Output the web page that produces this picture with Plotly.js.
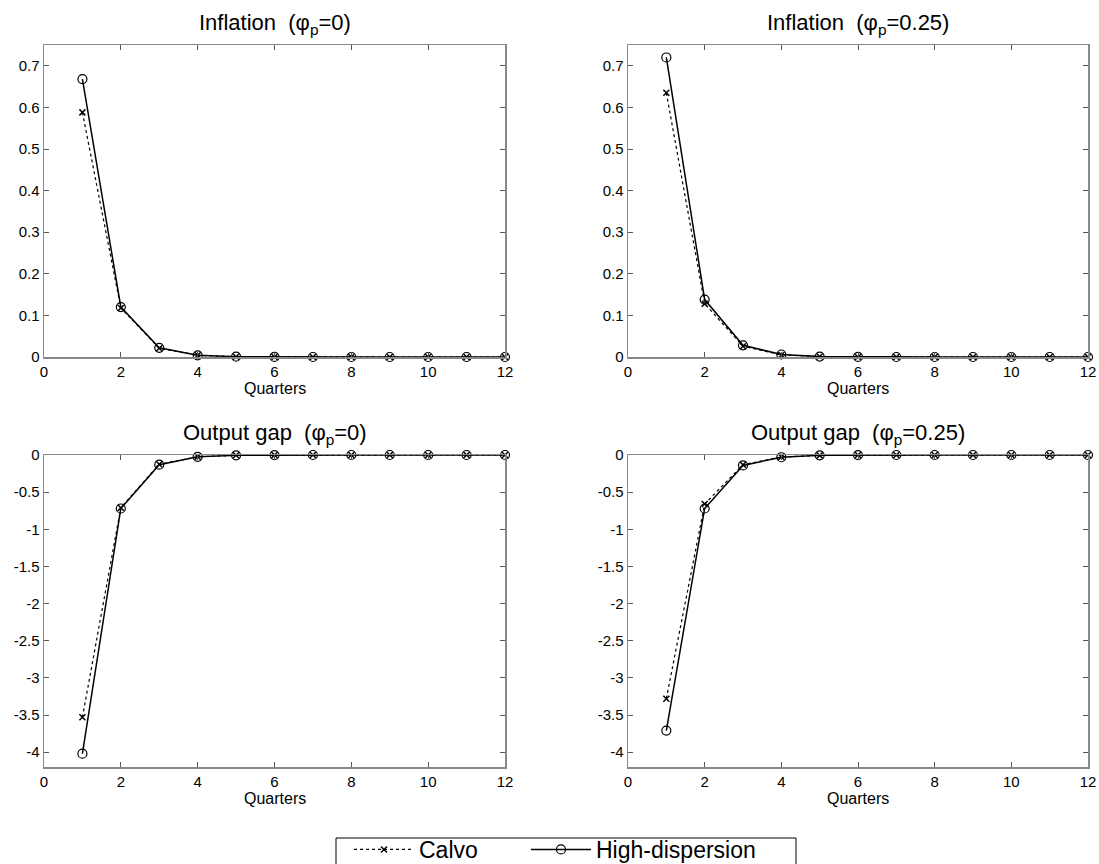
<!DOCTYPE html>
<html>
<head>
<meta charset="utf-8">
<script src="https://cdn.plot.ly/plotly-3.0.1.min.js"></script>
<style>html,body{margin:0;padding:0;background:#fff;}#chart{width:1099px;height:864px;}</style>
</head>
<body>
<div id="chart"></div>
<script>
const quarters = [1,2,3,4,5,6,7,8,9,10,11,12];
const xTicks = [0,2,4,6,8,10,12];
const inflTicks = [0,0.1,0.2,0.3,0.4,0.5,0.6,0.7];
const inflTickText = ["0","0.1","0.2","0.3","0.4","0.5","0.6","0.7"];
const gapTicks = [0,-0.5,-1,-1.5,-2,-2.5,-3,-3.5,-4];
const gapTickText = ["0","-0.5","-1","-1.5","-2","-2.5","-3","-3.5","-4"];
const titles = ["Inflation&nbsp; (φ<sub>p</sub>=0)", "Inflation&nbsp; (φ<sub>p</sub>=0.25)", "Output gap&nbsp; (φ<sub>p</sub>=0)", "Output gap&nbsp; (φ<sub>p</sub>=0.25)"];
const seriesNames = ["Calvo", "High-dispersion"];

const inflCalvo0 = [0.588,0.118,0.021,0.004,0.0007,0.0001,0,0,0,0,0,0];
const inflHD0    = [0.668,0.120,0.022,0.004,0.0008,0.0001,0,0,0,0,0,0];
const inflCalvo25 = [0.635,0.128,0.026,0.005,0.001,0.0002,0,0,0,0,0,0];
const inflHD25    = [0.720,0.138,0.028,0.006,0.001,0.0002,0,0,0,0,0,0];
const gapCalvo0 = [-3.53,-0.71,-0.125,-0.024,-0.004,-0.0007,0,0,0,0,0,0];
const gapHD0    = [-4.02,-0.72,-0.130,-0.025,-0.005,-0.0008,0,0,0,0,0,0];
const gapCalvo25 = [-3.28,-0.66,-0.130,-0.027,-0.005,-0.0009,0,0,0,0,0,0];
const gapHD25    = [-3.71,-0.72,-0.140,-0.030,-0.005,-0.0010,0,0,0,0,0,0];

const panels = [
  {calvo: inflCalvo0, hd: inflHD0, xa:'x', ya:'y'},
  {calvo: inflCalvo25, hd: inflHD25, xa:'x2', ya:'y2'},
  {calvo: gapCalvo0, hd: gapHD0, xa:'x3', ya:'y3'},
  {calvo: gapCalvo25, hd: gapHD25, xa:'x4', ya:'y4'}
];

const traces = [];
panels.forEach((p, i) => {
  traces.push({x: quarters, y: p.calvo, xaxis: p.xa, yaxis: p.ya, type:'scatter', mode:'lines+markers',
    name: seriesNames[0], showlegend: i===0, legend:'legend', cliponaxis:false,
    line:{color:'#000', width:1.2, dash:'dot'},
    marker:{symbol:'x-thin-open', size:6, color:'#000', line:{color:'#000', width:1.5}}});
  traces.push({x: quarters, y: p.hd, xaxis: p.xa, yaxis: p.ya, type:'scatter', mode:'lines+markers',
    name: seriesNames[1], showlegend: i===0, legend:'legend2', cliponaxis:false,
    line:{color:'#000', width:1.5},
    marker:{symbol:'circle-open', size:9, color:'#000', line:{color:'#000', width:1.2}}});
});

const W = 1099, H = 864;
const colX = [[44/W, 505/W], [628/W, 1088/W]];
const rowY = [[1-357/H, 1-45/H], [1-767/H, 1-455/H]];
const tf = {family:'Arial, Liberation Sans', size:15, color:'#000'};

function xax(dom, anchor){
  return {domain: dom, anchor: anchor, range:[0,12], tickvals: xTicks, ticktext: xTicks.map(String), automargin:false,
    ticks:'inside', ticklen:5, tickcolor:'#555', mirror:'allticks', showline:true, linecolor:'#888', linewidth:1.5,
    showgrid:false, zeroline:false, tickfont: tf};
}
function yax(dom, anchor, range, vals, text){
  return {domain: dom, anchor: anchor, range: range, tickvals: vals, ticktext: text, automargin:false,
    ticks:'inside', ticklen:5, tickcolor:'#555', mirror:'allticks', showline:true, linecolor:'#888', linewidth:1.5,
    showgrid:false, zeroline:false, tickfont: tf};
}

const titleFont = {family:'Arial, Liberation Sans', size:22, color:'#000'};
const annos = [];
const centers = [[(44+505)/2/W, 1-24/H], [(628+1088)/2/W, 1-24/H], [(44+505)/2/W, 1-434/H], [(628+1088)/2/W, 1-434/H]];
titles.forEach((t, i) => {
  annos.push({text: t, xref:'paper', yref:'paper', x: centers[i][0], y: centers[i][1], xanchor:'center', yanchor:'middle', showarrow:false, font: titleFont});
});
const qY = [1-388/H, 1-798/H];
[[0,0],[1,0],[0,1],[1,1]].forEach(([c,r]) => {
  annos.push({text:'Quarters', xref:'paper', yref:'paper', x:(colX[c][0]+colX[c][1])/2, y:qY[r], xanchor:'center', yanchor:'middle', showarrow:false,
    font: {family:'Arial, Liberation Sans', size:16, color:'#000'}});
});

const legFont = {family:'Arial, Liberation Sans', size:23, color:'#000'};
const layout = {
  width: W, height: H, margin:{l:0,r:0,t:0,b:0, autoexpand:false}, paper_bgcolor:'#fff', plot_bgcolor:'#fff',
  showlegend: true,
  legend:{orientation:'h', xref:'container', yref:'container', x:349/W, y:1-828/H, xanchor:'left', yanchor:'top', borderwidth:0,
    font: legFont, itemwidth:60, bgcolor:'rgba(0,0,0,0)'},
  legend2:{orientation:'h', xref:'container', yref:'container', x:526/W, y:1-828/H, xanchor:'left', yanchor:'top', borderwidth:0,
    font: legFont, itemwidth:60, bgcolor:'rgba(0,0,0,0)'},
  shapes:[{type:'rect', xref:'paper', yref:'paper', x0:336/W, x1:796/W, y0:-0.05, y1:1-838/H, line:{color:'#000', width:1}, layer:'below'}],
  xaxis: xax(colX[0], 'y'), yaxis: yax(rowY[0], 'x', [0,0.75], inflTicks, inflTickText),
  xaxis2: xax(colX[1], 'y2'), yaxis2: yax(rowY[0], 'x2', [0,0.75], inflTicks, inflTickText),
  xaxis3: xax(colX[0], 'y3'), yaxis3: yax(rowY[1], 'x3', [-4.2,0], gapTicks, gapTickText),
  xaxis4: xax(colX[1], 'y4'), yaxis4: yax(rowY[1], 'x4', [-4.2,0], gapTicks, gapTickText),
  annotations: annos
};

Plotly.newPlot('chart', traces, layout, {displayModeBar:false, staticPlot:true});
</script>
</body>
</html>
